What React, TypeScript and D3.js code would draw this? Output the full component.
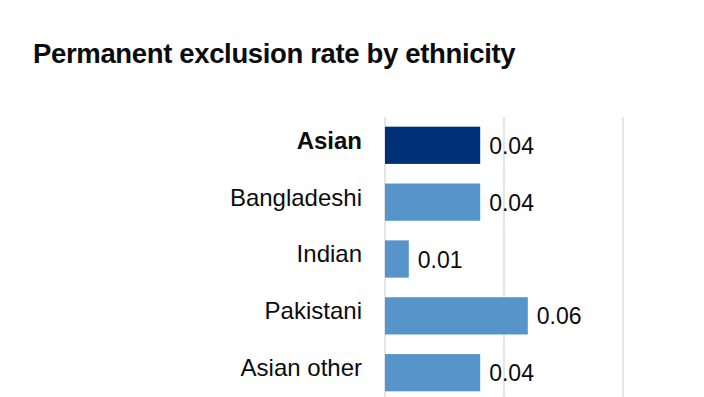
import React from "react";
import * as d3 from "d3";

const categories = ["Asian", "Bangladeshi", "Indian", "Pakistani", "Asian other"];
const values = [0.04, 0.04, 0.01, 0.06, 0.04];
const highlighted = ["Asian"];
const gridTicks = [0, 0.05, 0.1];

export default function App() {
  const W = 704, H = 397;
  const x = d3.scaleLinear().domain([0, 0.1]).range([385, 623]);
  const y = d3.scaleBand().domain(categories).range([117, 401]).paddingInner(0.345).paddingOuter(0.17);
  const fmt = d3.format(".2f");
  const font = "Liberation Sans, Arial, sans-serif";
  return (
    <svg width={W} height={H} style={{ position: "absolute", left: 0, top: 0, background: "#fff" }}>
      <text x={33} y={63} fontFamily={font} fontWeight="bold" fontSize={27.5} fill="#0b0c0c" letterSpacing={-0.35}>
        Permanent exclusion rate by ethnicity
      </text>
      {gridTicks.map((t) => (
        <line key={t} x1={x(t)} x2={x(t)} y1={117} y2={H} stroke="#e5e5e5" strokeWidth={2} />
      ))}
      {categories.map((c, i) => {
        const yy = y(c)!;
        const bw = y.bandwidth();
        const hl = highlighted.includes(c);
        return (
          <g key={c}>
            <rect x={x(0)} y={yy} width={x(values[i]) - x(0)} height={bw} fill={hl ? "#003078" : "#5694ca"} />
            <text x={362} y={yy + bw / 2 - 5} dy="0.35em" textAnchor="end" fontFamily={font} fontSize={24} fontWeight={hl ? "bold" : "normal"} fill="#0b0c0c">
              {c}
            </text>
            <text x={x(values[i]) + 9} y={yy + bw / 2 + 0.5} dy="0.35em" fontFamily={font} fontSize={23} fill="#0b0c0c">
              {fmt(values[i])}
            </text>
          </g>
        );
      })}
    </svg>
  );
}
